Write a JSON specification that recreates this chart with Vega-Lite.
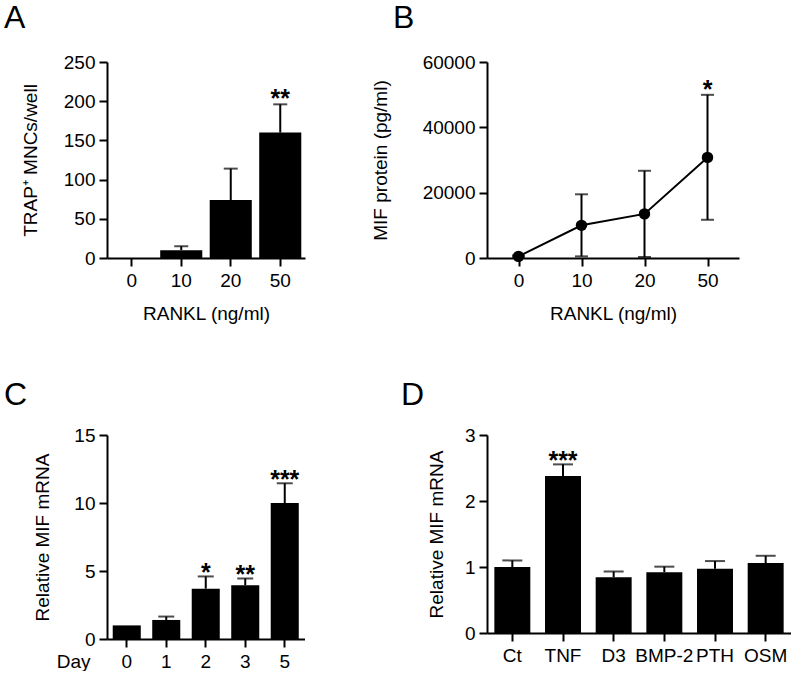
{
  "$schema": "https://vega.github.io/schema/vega-lite/v6.json",
  "padding": {"left": 4, "top": 2, "right": 0, "bottom": 0},
  "background": "white",
  "columns": 2,
  "spacing": {"column": 66, "row": 56},
  "config": {
    "font": "Liberation Sans",
    "view": {"stroke": null},
    "axis": {
      "domainColor": "black", "domainWidth": 2, "tickColor": "black", "tickWidth": 2, "tickSize": 8,
      "labelColor": "black", "labelFontSize": 19, "labelFont": "Liberation Sans", "labelPadding": 4,
      "titleFontSize": 19, "titleFontWeight": "normal", "titleColor": "black", "titleFont": "Liberation Sans",
      "grid": false, "labelOverlap": false, "labelBound": false, "labelFlush": false
    },
    "axisX": {"labelAngle": 0, "labelPadding": 5, "titlePadding": 14},
    "title": {"fontSize": 32, "fontWeight": "normal", "anchor": "start", "frame": "group", "color": "black", "font": "Liberation Sans"}
  },
  "datasets": {
    "a": [
      {"rankl": "0", "mean": 0, "hi": 0, "sig": ""},
      {"rankl": "10", "mean": 10, "hi": 15, "sig": ""},
      {"rankl": "20", "mean": 74, "hi": 114, "sig": ""},
      {"rankl": "50", "mean": 160, "hi": 196, "sig": "**"}
    ],
    "b": [
      {"rankl": "0", "mean": 500, "lo": 200, "hi": 800, "sig": ""},
      {"rankl": "10", "mean": 10000, "lo": 500, "hi": 19500, "sig": ""},
      {"rankl": "20", "mean": 13500, "lo": 300, "hi": 26700, "sig": ""},
      {"rankl": "50", "mean": 30800, "lo": 11700, "hi": 49950, "sig": "*"}
    ],
    "c": [
      {"day": "0", "mean": 1.0, "hi": 1.0, "sig": ""},
      {"day": "1", "mean": 1.4, "hi": 1.65, "sig": ""},
      {"day": "2", "mean": 3.7, "hi": 4.6, "sig": "*"},
      {"day": "3", "mean": 3.95, "hi": 4.45, "sig": "**"},
      {"day": "5", "mean": 10.0, "hi": 11.45, "sig": "***"}
    ],
    "d": [
      {"treat": "Ct", "mean": 1.0, "hi": 1.1, "sig": ""},
      {"treat": "TNF", "mean": 2.38, "hi": 2.555, "sig": "***"},
      {"treat": "D3", "mean": 0.845, "hi": 0.93, "sig": ""},
      {"treat": "BMP-2", "mean": 0.92, "hi": 1.005, "sig": ""},
      {"treat": "PTH", "mean": 0.975, "hi": 1.09, "sig": ""},
      {"treat": "OSM", "mean": 1.06, "hi": 1.17, "sig": ""}
    ]
  },
  "concat": [
    {
      "width": 198, "height": 196,
      "title": {"text": "A", "dx": -103, "offset": 18},
      "data": {"name": "a"},
      "encoding": {
        "x": {"field": "rankl", "type": "ordinal", "sort": null, "scale": {"paddingInner": 0.15, "paddingOuter": 0.075}, "axis": {"title": "RANKL (ng/ml)"}}
      },
      "layer": [
        {"mark": {"type": "bar", "color": "black"},
         "encoding": {"y": {"field": "mean", "type": "quantitative", "title": "TRAP⁺ MNCs/well", "scale": {"domain": [0, 250], "nice": false}, "axis": {"values": [0, 50, 100, 150, 200, 250], "format": "d", "titlePadding": 23}}}},
        {"transform": [{"filter": "datum.hi > datum.mean"}],
         "mark": {"type": "rule", "color": "black", "strokeWidth": 2},
         "encoding": {"y": {"field": "mean", "type": "quantitative", "title": "TRAP⁺ MNCs/well", "axis": {"values": [0, 50, 100, 150, 200, 250], "format": "d", "titlePadding": 23}}, "y2": {"field": "hi"}}},
        {"transform": [{"filter": "datum.hi > datum.mean"}],
         "mark": {"type": "tick", "color": "black", "thickness": 2, "size": 14},
         "encoding": {"y": {"field": "hi", "type": "quantitative", "title": "TRAP⁺ MNCs/well", "axis": {"values": [0, 50, 100, 150, 200, 250], "format": "d", "titlePadding": 23}}}},
        {"mark": {"type": "text", "color": "black", "fontSize": 25, "fontWeight": "bold", "baseline": "alphabetic", "dy": 3},
         "encoding": {"y": {"field": "hi", "type": "quantitative", "title": "TRAP⁺ MNCs/well", "axis": {"values": [0, 50, 100, 150, 200, 250], "format": "d", "titlePadding": 23}}, "text": {"field": "sig"}}}
      ]
    },
    {
      "width": 252, "height": 196,
      "title": {"text": "B", "dx": -94, "offset": 18},
      "data": {"name": "b"},
      "encoding": {
        "x": {"field": "rankl", "type": "ordinal", "sort": null, "scale": {"type": "point", "padding": 0.5}, "axis": {"title": "RANKL (ng/ml)"}}
      },
      "layer": [
        {"mark": {"type": "line", "color": "black", "strokeWidth": 2},
         "encoding": {"y": {"field": "mean", "type": "quantitative", "title": "MIF protein (pg/ml)", "scale": {"domain": [0, 60000], "nice": false}, "axis": {"values": [0, 20000, 40000, 60000], "format": "d", "titlePadding": 32}}}},
        {"mark": {"type": "rule", "color": "black", "strokeWidth": 2},
         "encoding": {"y": {"field": "lo", "type": "quantitative", "title": "MIF protein (pg/ml)", "axis": {"values": [0, 20000, 40000, 60000], "format": "d", "titlePadding": 32}}, "y2": {"field": "hi"}}},
        {"mark": {"type": "tick", "color": "black", "thickness": 2, "size": 13},
         "encoding": {"y": {"field": "hi", "type": "quantitative", "title": "MIF protein (pg/ml)", "axis": {"values": [0, 20000, 40000, 60000], "format": "d", "titlePadding": 32}}}},
        {"mark": {"type": "tick", "color": "black", "thickness": 2, "size": 13},
         "encoding": {"y": {"field": "lo", "type": "quantitative", "title": "MIF protein (pg/ml)", "axis": {"values": [0, 20000, 40000, 60000], "format": "d", "titlePadding": 32}}}},
        {"mark": {"type": "point", "filled": true, "color": "black", "opacity": 1, "size": 130},
         "encoding": {"y": {"field": "mean", "type": "quantitative", "title": "MIF protein (pg/ml)", "axis": {"values": [0, 20000, 40000, 60000], "format": "d", "titlePadding": 32}}}},
        {"mark": {"type": "text", "color": "black", "fontSize": 25, "fontWeight": "bold", "baseline": "alphabetic", "dy": 3},
         "encoding": {"y": {"field": "hi", "type": "quantitative", "title": "MIF protein (pg/ml)", "axis": {"values": [0, 20000, 40000, 60000], "format": "d", "titlePadding": 32}}, "text": {"field": "sig"}}}
      ]
    },
    {
      "width": 197.5, "height": 204,
      "title": {"text": "C", "dx": -103, "offset": 14},
      "data": {"name": "c"},
      "encoding": {
        "x": {"field": "day", "type": "ordinal", "sort": null, "scale": {"paddingInner": 0.29, "paddingOuter": 0.145},
              "axis": {"title": "Day", "titleX": -17, "titleY": 28, "titleAlign": "right", "titleBaseline": "alphabetic"}}
      },
      "layer": [
        {"mark": {"type": "bar", "color": "black"},
         "encoding": {"y": {"field": "mean", "type": "quantitative", "title": "Relative MIF mRNA", "scale": {"domain": [0, 15], "nice": false}, "axis": {"values": [0, 5, 10, 15], "format": "d", "titlePadding": 21}}}},
        {"transform": [{"filter": "datum.hi > datum.mean"}],
         "mark": {"type": "rule", "color": "black", "strokeWidth": 2},
         "encoding": {"y": {"field": "mean", "type": "quantitative", "title": "Relative MIF mRNA", "axis": {"values": [0, 5, 10, 15], "format": "d", "titlePadding": 21}}, "y2": {"field": "hi"}}},
        {"transform": [{"filter": "datum.hi > datum.mean"}],
         "mark": {"type": "tick", "color": "black", "thickness": 2, "size": 16},
         "encoding": {"y": {"field": "hi", "type": "quantitative", "title": "Relative MIF mRNA", "axis": {"values": [0, 5, 10, 15], "format": "d", "titlePadding": 21}}}},
        {"mark": {"type": "text", "color": "black", "fontSize": 25, "fontWeight": "bold", "baseline": "alphabetic", "dy": 5},
         "encoding": {"y": {"field": "hi", "type": "quantitative", "title": "Relative MIF mRNA", "axis": {"values": [0, 5, 10, 15], "format": "d", "titlePadding": 21}}, "text": {"field": "sig"}}}
      ]
    },
    {
      "width": 304, "height": 198,
      "title": {"text": "D", "dx": -86, "offset": 14},
      "data": {"name": "d"},
      "encoding": {
        "x": {"field": "treat", "type": "ordinal", "sort": null, "scale": {"paddingInner": 0.29, "paddingOuter": 0.145}, "axis": {"title": null}}
      },
      "layer": [
        {"mark": {"type": "bar", "color": "black"},
         "encoding": {"y": {"field": "mean", "type": "quantitative", "title": "Relative MIF mRNA", "scale": {"domain": [0, 3], "nice": false}, "axis": {"values": [0, 1, 2, 3], "format": "d", "titlePadding": 18}}}},
        {"transform": [{"filter": "datum.hi > datum.mean"}],
         "mark": {"type": "rule", "color": "black", "strokeWidth": 2},
         "encoding": {"y": {"field": "mean", "type": "quantitative", "title": "Relative MIF mRNA", "axis": {"values": [0, 1, 2, 3], "format": "d", "titlePadding": 18}}, "y2": {"field": "hi"}}},
        {"transform": [{"filter": "datum.hi > datum.mean"}],
         "mark": {"type": "tick", "color": "black", "thickness": 2, "size": 20},
         "encoding": {"y": {"field": "hi", "type": "quantitative", "title": "Relative MIF mRNA", "axis": {"values": [0, 1, 2, 3], "format": "d", "titlePadding": 18}}}},
        {"mark": {"type": "text", "color": "black", "fontSize": 25, "fontWeight": "bold", "baseline": "alphabetic", "dy": 5},
         "encoding": {"y": {"field": "hi", "type": "quantitative", "title": "Relative MIF mRNA", "axis": {"values": [0, 1, 2, 3], "format": "d", "titlePadding": 18}}, "text": {"field": "sig"}}}
      ]
    }
  ]
}
